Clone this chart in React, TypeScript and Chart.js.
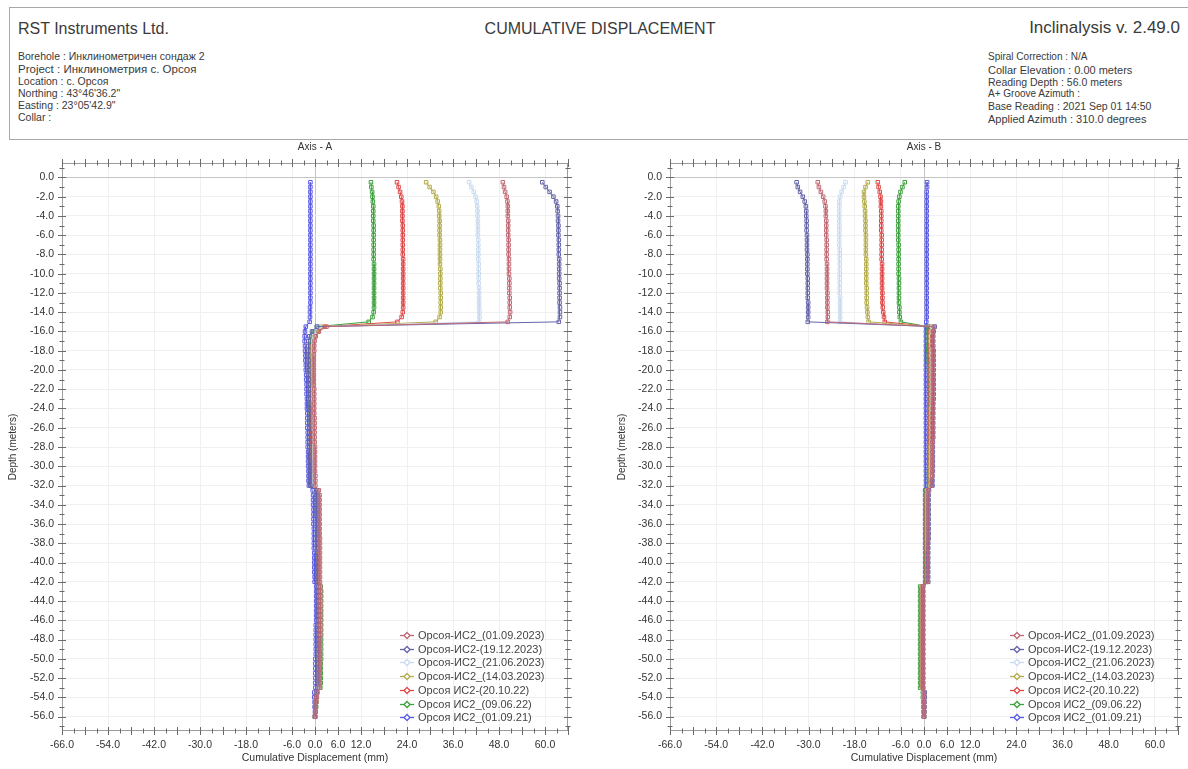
import React, { useEffect, useRef } from 'react';
import { Chart, registerables } from 'chart.js';
Chart.register(...registerables);

const FONT = '"Liberation Sans", Arial, sans-serif';

const depths = [
  -0.5, -1, -1.5, -2, -2.5, -3, -3.5, -4, -4.5, -5,
  -5.5, -6, -6.5, -7, -7.5, -8, -8.5, -9, -9.5, -10,
  -10.5, -11, -11.5, -12, -12.5, -13, -13.5, -14, -14.5, -15,
  -15.5, -16, -16.5, -17, -17.5, -18, -18.5, -19, -19.5, -20,
  -20.5, -21, -21.5, -22, -22.5, -23, -23.5, -24, -24.5, -25,
  -25.5, -26, -26.5, -27, -27.5, -28, -28.5, -29, -29.5, -30,
  -30.5, -31, -31.5, -32, -32.5, -33, -33.5, -34, -34.5, -35,
  -35.5, -36, -36.5, -37, -37.5, -38, -38.5, -39, -39.5, -40,
  -40.5, -41, -41.5, -42, -42.5, -43, -43.5, -44, -44.5, -45,
  -45.5, -46, -46.5, -47, -47.5, -48, -48.5, -49, -49.5, -50,
  -50.5, -51, -51.5, -52, -52.5, -53, -53.5, -54, -54.5, -55,
  -55.5, -56,
];

const seriesNames = [
  'Орсоя-ИС2_(01.09.2023)',
  'Орсоя-ИС2-(19.12.2023)',
  'Орсоя-ИС2_(21.06.2023)',
  'Орсоя-ИС2_(14.03.2023)',
  'Орсоя ИС2-(20.10.22)',
  'Орсоя ИС2_(09.06.22)',
  'Орсоя ИС2_(01.09.21)',
];
const seriesColors = ['#c06874', '#6464aa', '#c8daf0', '#b4ac4c', '#e04848', '#3ca03c', '#5a5ae6'];

const xTickLabels = [-66, -54, -42, -30, -18, -6, 0, 6, 12, 24, 36, 48, 60];
const yTickLabels = [0, -2, -4, -6, -8, -10, -12, -14, -16, -18, -20, -22, -24, -26, -28, -30, -32, -34, -36, -38, -40, -42, -44, -46, -48, -50, -52, -54, -56];

// ---------- Axis A ----------
const aMauve = [
  49.0, 49.3, 49.6, 50.0, 50.2, 50.3, 50.3, 50.3, 50.4, 50.4,
  50.4, 50.4, 50.5, 50.5, 50.5, 50.5, 50.6, 50.6, 50.6, 50.6,
  50.7, 50.7, 50.7, 50.7, 50.8, 50.8, 50.8, 50.9, 50.8, 50.3,
  3.0, 1.0, 0.2, -0.1, -0.2, -0.2, -0.3, -0.3, -0.3, -0.3,
  -0.3, -0.3, -0.3, -0.2, -0.2, -0.2, -0.2, -0.2, -0.2, -0.1,
  -0.1, -0.1, -0.1, -0.1, -0.1, 0.0, 0.0, 0.0, 0.0, 0.0,
  0.0, 0.1, 0.1, 0.1, 1.0, 1.2, 1.2, 1.2, 1.2, 1.2,
  1.2, 1.2, 1.2, 1.2, 1.3, 1.3, 1.3, 1.3, 1.3, 1.3,
  1.3, 1.3, 1.3, 1.3, 1.4, 1.4, 1.4, 1.4, 1.4, 1.4,
  1.4, 1.4, 1.4, 1.4, 1.4, 1.3, 1.3, 1.3, 1.3, 1.3,
  1.3, 1.2, 1.2, 1.2, 1.1, 1.1, 0.6, 0.4, 0.3, 0.2,
  0.1, 0.0,
];
const aDarkBlue = [
  59.3, 60.2, 61.2, 62.2, 62.9, 63.2, 63.3, 63.4, 63.4, 63.5,
  63.5, 63.5, 63.6, 63.6, 63.6, 63.6, 63.7, 63.7, 63.7, 63.7,
  63.7, 63.8, 63.8, 63.8, 63.8, 63.8, 63.9, 63.9, 63.9, 63.6,
  0.5, -0.8, -1.5, -1.7, -1.8, -1.8, -1.8, -1.7, -1.7, -1.7,
  -1.7, -1.6, -1.6, -1.6, -1.6, -1.6, -1.5, -1.5, -1.5, -1.5,
  -1.5, -1.5, -1.4, -1.4, -1.4, -1.4, -1.4, -1.4, -1.3, -1.3,
  -1.3, -1.3, -1.3, -1.2, 0.3, 0.4, 0.4, 0.4, 0.4, 0.4,
  0.5, 0.5, 0.5, 0.5, 0.5, 0.5, 0.5, 0.6, 0.6, 0.6,
  0.6, 0.6, 0.6, 0.6, 0.9, 0.9, 0.9, 0.9, 0.9, 0.9,
  0.9, 0.9, 0.9, 0.9, 0.9, 0.9, 0.9, 0.8, 0.8, 0.8,
  0.8, 0.8, 0.8, 0.8, 0.8, 0.7, 0.4, 0.3, 0.2, 0.1,
  0.1, 0.0,
];
const aLightBlue = [
  40.2, 40.8, 41.4, 41.9, 42.2, 42.3, 42.4, 42.4, 42.5, 42.5,
  42.5, 42.5, 42.6, 42.6, 42.6, 42.6, 42.6, 42.7, 42.7, 42.7,
  42.7, 42.7, 42.8, 42.8, 42.8, 42.8, 42.8, 42.9, 42.9, 42.8,
  1.0, 0.2, -0.3, -0.4, -0.5, -0.5, -0.5, -0.5, -0.5, -0.5,
  -0.5, -0.4, -0.4, -0.4, -0.4, -0.4, -0.4, -0.3, -0.3, -0.3,
  -0.3, -0.3, -0.3, -0.3, -0.3, -0.2, -0.2, -0.2, -0.2, -0.2,
  -0.2, -0.2, -0.2, -0.2, 0.9, 1.0, 1.0, 1.0, 1.0, 1.0,
  1.0, 1.1, 1.1, 1.1, 1.1, 1.1, 1.1, 1.1, 1.1, 1.1,
  1.1, 1.1, 1.1, 1.1, 1.2, 1.2, 1.2, 1.2, 1.2, 1.2,
  1.2, 1.2, 1.2, 1.2, 1.2, 1.2, 1.2, 1.2, 1.1, 1.1,
  1.1, 1.1, 1.1, 1.1, 1.0, 1.0, 0.5, 0.4, 0.3, 0.2,
  0.1, 0.0,
];
const aOlive = [
  29.0, 29.9, 30.9, 31.6, 32.0, 32.3, 32.4, 32.4, 32.5, 32.5,
  32.5, 32.5, 32.6, 32.6, 32.6, 32.6, 32.6, 32.6, 32.7, 32.7,
  32.7, 32.7, 32.7, 32.8, 32.8, 32.8, 32.8, 32.8, 32.5, 31.5,
  1.5, 0.5, -0.2, -0.5, -0.6, -0.6, -0.7, -0.7, -0.7, -0.7,
  -0.7, -0.6, -0.6, -0.6, -0.6, -0.6, -0.6, -0.5, -0.5, -0.5,
  -0.5, -0.5, -0.5, -0.5, -0.5, -0.4, -0.4, -0.4, -0.4, -0.4,
  -0.4, -0.4, -0.4, -0.4, 0.8, 0.9, 0.9, 0.9, 0.9, 0.9,
  0.9, 1.0, 1.0, 1.0, 1.0, 1.0, 1.0, 1.0, 1.0, 1.0,
  1.0, 1.0, 1.0, 1.0, 1.0, 1.0, 1.0, 1.0, 1.0, 1.0,
  1.0, 1.0, 1.0, 1.0, 1.0, 1.0, 1.0, 1.0, 0.9, 0.9,
  0.9, 0.9, 0.9, 0.9, 0.9, 0.8, 0.4, 0.3, 0.2, 0.1,
  0.1, 0.0,
];
const aRed = [
  21.4, 21.8, 22.2, 22.5, 22.7, 22.8, 22.8, 22.8, 22.8, 22.9,
  22.9, 22.9, 22.9, 22.9, 22.9, 22.9, 23.0, 23.0, 23.0, 23.0,
  23.0, 23.0, 23.0, 23.0, 23.0, 23.0, 23.0, 22.9, 22.6, 21.5,
  2.5, 0.8, 0.0, -0.4, -0.6, -0.7, -0.7, -0.8, -0.8, -0.8,
  -0.8, -0.8, -0.8, -0.8, -0.8, -0.7, -0.7, -0.7, -0.7, -0.7,
  -0.7, -0.7, -0.7, -0.7, -0.7, -0.6, -0.6, -0.6, -0.6, -0.6,
  -0.6, -0.6, -0.6, -0.6, 0.7, 0.8, 0.8, 0.8, 0.8, 0.9,
  0.9, 0.9, 0.9, 0.9, 0.9, 0.9, 0.9, 0.9, 0.9, 0.9,
  0.9, 0.9, 0.9, 0.9, 1.1, 1.1, 1.1, 1.1, 1.1, 1.1,
  1.1, 1.1, 1.1, 1.1, 1.1, 1.1, 1.1, 1.1, 1.1, 1.0,
  1.0, 1.0, 1.0, 1.0, 1.0, 1.0, 0.5, 0.4, 0.3, 0.2,
  0.1, 0.0,
];
const aGreen = [
  14.6, 14.7, 14.9, 15.0, 15.1, 15.2, 15.2, 15.2, 15.2, 15.3,
  15.3, 15.3, 15.3, 15.3, 15.3, 15.3, 15.3, 15.4, 15.4, 15.4,
  15.4, 15.4, 15.4, 15.4, 15.4, 15.4, 15.4, 15.3, 15.0, 14.0,
  0.5, -0.5, -1.0, -1.2, -1.2, -1.3, -1.3, -1.3, -1.2, -1.2,
  -1.2, -1.2, -1.2, -1.2, -1.1, -1.1, -1.1, -1.1, -1.1, -1.1,
  -1.1, -1.0, -1.0, -1.0, -1.0, -1.0, -1.0, -1.0, -1.0, -0.9,
  -0.9, -0.9, -0.9, -0.9, 0.6, 0.7, 0.7, 0.7, 0.8, 0.8,
  0.8, 0.8, 0.8, 0.8, 0.8, 0.8, 0.8, 0.8, 0.8, 0.8,
  0.8, 0.8, 0.8, 0.8, 1.5, 1.6, 1.6, 1.6, 1.6, 1.6,
  1.6, 1.6, 1.6, 1.6, 1.6, 1.6, 1.6, 1.6, 1.6, 1.6,
  1.5, 1.5, 1.5, 1.5, 1.5, 1.4, 0.6, 0.5, 0.4, 0.3,
  0.2, 0.0,
];
const aBlue = [
  -1.2, -1.2, -1.2, -1.2, -1.2, -1.2, -1.2, -1.2, -1.2, -1.2,
  -1.2, -1.2, -1.2, -1.2, -1.2, -1.2, -1.2, -1.2, -1.2, -1.2,
  -1.2, -1.2, -1.2, -1.2, -1.2, -1.2, -1.3, -1.3, -1.3, -1.4,
  -2.4, -2.6, -2.7, -2.7, -2.6, -2.6, -2.5, -2.5, -2.4, -2.4,
  -2.3, -2.3, -2.2, -2.2, -2.2, -2.1, -2.1, -2.1, -2.0, -2.0,
  -2.0, -2.0, -1.9, -1.9, -1.9, -1.9, -1.8, -1.8, -1.8, -1.8,
  -1.7, -1.7, -1.7, -1.6, -0.6, -0.5, -0.5, -0.5, -0.4, -0.4,
  -0.4, -0.4, -0.3, -0.3, -0.3, -0.3, -0.3, -0.2, -0.2, -0.2,
  -0.2, -0.2, -0.1, -0.1, 0.3, 0.3, 0.3, 0.3, 0.3, 0.3,
  0.3, 0.3, 0.2, 0.2, 0.2, 0.2, 0.2, 0.2, 0.2, 0.1,
  0.1, 0.1, 0.1, 0.1, 0.1, 0.1, -0.2, -0.2, -0.1, -0.1,
  0.0, 0.0,
];

// ---------- Axis B ----------
const bMauve = [
  -27.6, -27.3, -26.8, -26.2, -25.8, -25.6, -25.5, -25.5, -25.4, -25.4,
  -25.4, -25.4, -25.3, -25.3, -25.3, -25.3, -25.3, -25.2, -25.2, -25.2,
  -25.2, -25.2, -25.2, -25.1, -25.1, -25.1, -25.1, -25.0, -25.0, -25.1,
  2.6, 2.3, 2.2, 2.2, 2.2, 2.3, 2.3, 2.3, 2.3, 2.3,
  2.3, 2.3, 2.3, 2.3, 2.3, 2.3, 2.3, 2.3, 2.2, 2.2,
  2.2, 2.2, 2.2, 2.2, 2.2, 2.1, 2.1, 2.1, 2.1, 2.1,
  2.1, 2.1, 2.0, 2.0, 1.1, 1.0, 1.0, 1.0, 1.0, 1.0,
  1.0, 1.0, 1.0, 1.0, 1.0, 1.0, 1.0, 0.9, 0.9, 0.9,
  0.9, 0.9, 0.9, 0.9, -0.3, -0.3, -0.3, -0.3, -0.3, -0.3,
  -0.3, -0.3, -0.3, -0.3, -0.3, -0.3, -0.3, -0.3, -0.3, -0.3,
  -0.3, -0.3, -0.3, -0.3, -0.3, -0.3, 0.0, 0.0, 0.0, 0.0,
  0.0, 0.0,
];
const bDarkBlue = [
  -33.1, -32.8, -32.2, -31.5, -31.0, -30.7, -30.6, -30.6, -30.5, -30.5,
  -30.5, -30.4, -30.4, -30.4, -30.4, -30.3, -30.3, -30.3, -30.3, -30.3,
  -30.2, -30.2, -30.2, -30.2, -30.2, -30.1, -30.1, -30.1, -30.1, -30.2,
  2.8, 2.5, 2.4, 2.4, 2.4, 2.5, 2.5, 2.5, 2.5, 2.5,
  2.5, 2.5, 2.5, 2.5, 2.5, 2.5, 2.4, 2.4, 2.4, 2.4,
  2.4, 2.4, 2.4, 2.4, 2.3, 2.3, 2.3, 2.3, 2.3, 2.3,
  2.3, 2.2, 2.2, 2.2, 1.3, 1.2, 1.2, 1.2, 1.2, 1.2,
  1.2, 1.2, 1.2, 1.2, 1.2, 1.1, 1.1, 1.1, 1.1, 1.1,
  1.1, 1.1, 1.1, 1.1, -0.2, -0.2, -0.2, -0.2, -0.2, -0.2,
  -0.2, -0.2, -0.2, -0.2, -0.2, -0.2, -0.2, -0.2, -0.2, -0.2,
  -0.2, -0.2, -0.2, -0.2, -0.2, -0.2, 0.2, 0.2, 0.1, 0.1,
  0.1, 0.0,
];
const bLightBlue = [
  -20.4, -20.9, -21.4, -21.8, -22.0, -22.0, -22.0, -22.0, -22.0, -22.0,
  -22.0, -22.0, -22.0, -22.0, -21.9, -21.9, -21.9, -21.9, -21.9, -21.9,
  -21.9, -21.9, -21.9, -21.9, -21.8, -21.8, -21.8, -21.8, -21.8, -21.8,
  2.2, 2.0, 1.9, 1.9, 2.0, 2.0, 2.0, 2.1, 2.1, 2.1,
  2.1, 2.1, 2.1, 2.1, 2.1, 2.1, 2.1, 2.0, 2.0, 2.0,
  2.0, 2.0, 2.0, 2.0, 2.0, 1.9, 1.9, 1.9, 1.9, 1.9,
  1.9, 1.9, 1.9, 1.8, 1.0, 0.9, 0.9, 0.9, 0.9, 0.9,
  0.9, 0.9, 0.9, 0.9, 0.9, 0.9, 0.9, 0.9, 0.9, 0.9,
  0.9, 0.9, 0.9, 0.9, -0.3, -0.3, -0.3, -0.3, -0.3, -0.3,
  -0.3, -0.3, -0.3, -0.3, -0.3, -0.3, -0.3, -0.3, -0.3, -0.3,
  -0.3, -0.3, -0.3, -0.3, -0.3, -0.3, 0.0, 0.0, 0.0, 0.0,
  0.0, 0.0,
];
const bOlive = [
  -14.6, -15.2, -15.6, -15.6, -15.5, -15.4, -15.3, -15.3, -15.2, -15.2,
  -15.2, -15.1, -15.1, -15.1, -15.1, -15.1, -15.0, -15.0, -15.0, -15.0,
  -15.0, -15.0, -14.9, -14.9, -14.9, -14.9, -14.8, -14.7, -14.6, -14.4,
  2.0, 1.8, 1.7, 1.7, 1.8, 1.8, 1.8, 1.9, 1.9, 1.9,
  1.9, 1.9, 1.9, 1.9, 1.9, 1.9, 1.9, 1.8, 1.8, 1.8,
  1.8, 1.8, 1.8, 1.8, 1.8, 1.7, 1.7, 1.7, 1.7, 1.7,
  1.7, 1.7, 1.7, 1.6, 0.9, 0.8, 0.8, 0.8, 0.8, 0.8,
  0.8, 0.8, 0.8, 0.8, 0.8, 0.8, 0.8, 0.8, 0.8, 0.8,
  0.8, 0.8, 0.8, 0.8, -0.5, -0.5, -0.5, -0.5, -0.5, -0.5,
  -0.5, -0.5, -0.5, -0.5, -0.5, -0.5, -0.5, -0.5, -0.5, -0.5,
  -0.5, -0.5, -0.5, -0.5, -0.5, -0.5, -0.1, -0.1, 0.0, 0.0,
  0.0, 0.0,
];
const bRed = [
  -12.0, -11.8, -11.5, -11.3, -11.2, -11.2, -11.1, -11.1, -11.1, -11.1,
  -11.1, -11.0, -11.0, -11.0, -11.0, -11.0, -11.0, -10.9, -10.9, -10.9,
  -10.9, -10.9, -10.9, -10.8, -10.8, -10.8, -10.7, -10.6, -10.4, -10.2,
  1.8, 1.6, 1.5, 1.5, 1.6, 1.6, 1.6, 1.7, 1.7, 1.7,
  1.7, 1.7, 1.7, 1.7, 1.7, 1.7, 1.7, 1.7, 1.6, 1.6,
  1.6, 1.6, 1.6, 1.6, 1.6, 1.6, 1.6, 1.6, 1.6, 1.6,
  1.6, 1.6, 1.6, 1.5, 0.8, 0.7, 0.7, 0.7, 0.7, 0.7,
  0.7, 0.7, 0.7, 0.7, 0.7, 0.7, 0.7, 0.7, 0.7, 0.7,
  0.7, 0.7, 0.7, 0.7, -0.5, -0.5, -0.5, -0.5, -0.5, -0.5,
  -0.5, -0.5, -0.5, -0.5, -0.5, -0.5, -0.5, -0.5, -0.5, -0.5,
  -0.5, -0.5, -0.5, -0.5, -0.5, -0.5, -0.1, -0.1, 0.0, 0.0,
  0.0, 0.0,
];
const bGreen = [
  -5.0, -5.6, -6.1, -6.4, -6.6, -6.7, -6.7, -6.7, -6.7, -6.7,
  -6.7, -6.7, -6.7, -6.6, -6.6, -6.6, -6.6, -6.6, -6.6, -6.6,
  -6.5, -6.5, -6.5, -6.5, -6.5, -6.5, -6.4, -6.4, -6.3, -6.0,
  1.2, 1.0, 0.9, 0.9, 1.0, 1.1, 1.2, 1.2, 1.3, 1.3,
  1.4, 1.4, 1.4, 1.4, 1.5, 1.5, 1.5, 1.5, 1.5, 1.5,
  1.5, 1.5, 1.5, 1.4, 1.4, 1.4, 1.4, 1.4, 1.4, 1.4,
  1.3, 1.3, 1.3, 1.3, 0.5, 0.5, 0.5, 0.5, 0.5, 0.5,
  0.5, 0.5, 0.5, 0.5, 0.5, 0.5, 0.5, 0.5, 0.5, 0.5,
  0.5, 0.5, 0.5, 0.5, -1.0, -1.0, -1.0, -1.0, -1.0, -1.0,
  -1.0, -1.0, -1.0, -1.0, -1.0, -1.0, -1.0, -1.0, -1.0, -1.0,
  -1.0, -1.0, -1.0, -1.0, -1.0, -1.0, -0.3, -0.3, -0.2, -0.2,
  -0.1, 0.0,
];
const bBlue = [
  0.8, 0.8, 0.7, 0.7, 0.7, 0.7, 0.7, 0.7, 0.7, 0.7,
  0.7, 0.7, 0.7, 0.7, 0.7, 0.7, 0.7, 0.7, 0.7, 0.7,
  0.7, 0.7, 0.7, 0.7, 0.7, 0.7, 0.7, 0.7, 0.7, 0.6,
  0.5, 0.5, 0.5, 0.5, 0.5, 0.5, 0.5, 0.5, 0.5, 0.5,
  0.5, 0.5, 0.5, 0.5, 0.5, 0.5, 0.5, 0.5, 0.5, 0.5,
  0.5, 0.5, 0.5, 0.5, 0.5, 0.5, 0.5, 0.5, 0.5, 0.5,
  0.5, 0.5, 0.5, 0.5, 0.3, 0.3, 0.3, 0.3, 0.3, 0.3,
  0.3, 0.3, 0.3, 0.3, 0.3, 0.3, 0.3, 0.3, 0.3, 0.3,
  0.3, 0.3, 0.3, 0.3, -0.4, -0.4, -0.4, -0.4, -0.4, -0.4,
  -0.4, -0.4, -0.4, -0.4, -0.4, -0.4, -0.4, -0.4, -0.4, -0.4,
  -0.4, -0.4, -0.4, -0.4, -0.4, -0.4, 0.0, 0.0, 0.0, 0.0,
  0.0, 0.0,
];

const seriesA = [aMauve, aDarkBlue, aLightBlue, aOlive, aRed, aGreen, aBlue];
const seriesB = [bMauve, bDarkBlue, bLightBlue, bOlive, bRed, bGreen, bBlue];

const framePlugin = {
  id: 'frameTicks',
  beforeDatasetsDraw(chart: any) {
    const { ctx, chartArea, scales } = chart;
    const { left, right, top, bottom } = chartArea;
    ctx.save();
    ctx.strokeStyle = '#9c9c9c';
    ctx.lineWidth = 1;
    ctx.strokeRect(left + 0.5, top + 0.5, right - left - 1, bottom - top - 1);
    ctx.strokeStyle = '#6a6a6a';
    ctx.beginPath();
    for (let v = -66; v <= 66; v += 3) {
      const px = Math.round(scales.x.getPixelForValue(v)) + 0.5;
      const len = v % 6 === 0 ? 4 : 2.5;
      ctx.moveTo(px, bottom - len);
      ctx.lineTo(px, bottom + len);
      ctx.moveTo(px, top - len);
      ctx.lineTo(px, top + len);
    }
    for (let v = -57; v <= 1; v += 1) {
      const py = Math.round(scales.y.getPixelForValue(v)) + 0.5;
      const len = v % 2 === 0 ? 4 : 2.5;
      ctx.moveTo(left - len, py);
      ctx.lineTo(left + len, py);
      ctx.moveTo(right - len, py);
      ctx.lineTo(right + len, py);
    }
    ctx.stroke();
    ctx.restore();
  },
};

const legendPlugin = {
  id: 'insideLegend',
  afterDatasetsDraw(chart: any) {
    const { ctx, chartArea } = chart;
    const textX = chartArea.right - 150;
    const y0 = chartArea.bottom - 96;
    ctx.save();
    ctx.font = `11px ${FONT}`;
    ctx.textBaseline = 'middle';
    ctx.textAlign = 'left';
    seriesNames.forEach((name, i) => {
      const y = Math.round(y0 + i * 13.7) + 0.5;
      const c = seriesColors[i];
      ctx.strokeStyle = c;
      ctx.lineWidth = 1.3;
      ctx.beginPath();
      ctx.moveTo(textX - 18, y);
      ctx.lineTo(textX - 4, y);
      ctx.stroke();
      ctx.beginPath();
      ctx.moveTo(textX - 11, y - 3);
      ctx.lineTo(textX - 8, y);
      ctx.lineTo(textX - 11, y + 3);
      ctx.lineTo(textX - 14, y);
      ctx.closePath();
      ctx.fillStyle = '#ffffff';
      ctx.fill();
      ctx.stroke();
      ctx.fillStyle = '#444444';
      ctx.fillText(name, textX, y);
    });
    ctx.restore();
  },
};

type PanelProps = {
  left: number;
  width: number;
  title: string;
  values: number[][];
  yAxisWidth: number;
  yTitlePad: number;
  padRight: number;
};

function Panel({ left, width, title, values, yAxisWidth, yTitlePad, padRight }: PanelProps) {
  const ref = useRef<HTMLCanvasElement>(null);
  useEffect(() => {
    const canvas = ref.current;
    if (!canvas) return;
    const chart = new Chart(canvas, {
      type: 'scatter',
      data: {
        datasets: seriesNames.map((name, i) => ({
          label: name,
          data: depths.map((d, j) => ({ x: values[i][j], y: d })),
          showLine: true,
          borderColor: seriesColors[i],
          borderWidth: 1,
          pointStyle: 'rect',
          pointRadius: 2.5,
          pointBorderWidth: 1,
          pointBorderColor: seriesColors[i],
          pointBackgroundColor: 'rgba(255,255,255,0)',
          tension: 0,
        })),
      },
      options: {
        animation: false,
        responsive: false,
        maintainAspectRatio: false,
        devicePixelRatio: 1,
        layout: { padding: { left: 0, right: padRight, top: 0, bottom: 0 } },
        plugins: {
          legend: { display: false },
          tooltip: { enabled: false },
          title: {
            display: true,
            text: title,
            fullSize: false,
            color: '#333',
            font: { family: FONT, size: 10, weight: 'normal' },
            padding: { top: 1, bottom: 10 },
          },
        },
        scales: {
          x: {
            type: 'linear',
            position: 'bottom',
            min: -66,
            max: 66,
            afterBuildTicks: (s: any) => {
              s.ticks = xTickLabels.map((v) => ({ value: v }));
            },
            afterFit: (s: any) => {
              s.height = 38;
            },
            ticks: {
              autoSkip: false,
              maxRotation: 0,
              padding: 8,
              color: '#333',
              font: { family: FONT, size: 10.5 },
              callback: (v: any) => Number(v).toFixed(1),
            },
            grid: {
              drawTicks: false,
              lineWidth: 1,
              color: (c: any) => (c.tick && c.tick.value === 0 ? '#c4c4c4' : '#f0f0f0'),
            },
            border: { display: false },
            title: {
              display: true,
              text: 'Cumulative Displacement (mm)',
              color: '#333',
              font: { family: FONT, size: 10.5 },
              padding: { top: 0, bottom: 5 },
            },
          },
          y: {
            type: 'linear',
            min: -57.5,
            max: 1.5,
            afterBuildTicks: (s: any) => {
              s.ticks = yTickLabels.map((v) => ({ value: v }));
            },
            afterFit: (s: any) => {
              s.width = yAxisWidth;
            },
            ticks: {
              autoSkip: false,
              padding: 8,
              color: '#333',
              font: { family: FONT, size: 10.5 },
              callback: (v: any) => Number(v).toFixed(1),
            },
            grid: {
              drawTicks: false,
              lineWidth: 1,
              color: (c: any) => (c.tick && c.tick.value === 0 ? '#c4c4c4' : '#f0f0f0'),
            },
            border: { display: false },
            title: {
              display: true,
              text: 'Depth (meters)',
              color: '#333',
              font: { family: FONT, size: 10 },
              padding: { top: yTitlePad, bottom: 0 },
            },
          },
        },
      } as any,
      plugins: [framePlugin, legendPlugin],
    });
    return () => chart.destroy();
  }, []);
  return (
    <canvas
      ref={ref}
      width={width}
      height={629}
      style={{ position: 'absolute', left, top: 140, width, height: 629 }}
    />
  );
}

const headerLeft: [string, number, number][] = [
  ['Borehole : Инклинометричен сондаж 2', 56, 10.5],
  ['Project : Инклинометрия с. Орсоя', 69, 11.5],
  ['Location : с. Орсоя', 81, 10.5],
  ['Northing : 43°46\'36.2"', 93, 10.5],
  ['Easting : 23°05\'42.9"', 105, 10.5],
  ['Collar :', 117, 10.5],
];
const headerRight: [string, number, number][] = [
  ['Spiral Correction : N/A', 57, 10],
  ['Collar Elevation : 0.00 meters', 70, 11],
  ['Reading Depth : 56.0 meters', 82, 10.5],
  ['A+ Groove Azimuth :', 94, 10],
  ['Base Reading : 2021 Sep 01 14:50', 106, 10.5],
  ['Applied Azimuth : 310.0 degrees', 119, 11],
];

export default function App() {
  const abs = (left: number, top: number, size: number): React.CSSProperties => ({
    position: 'absolute',
    left,
    top,
    fontSize: size,
    lineHeight: '14px',
    whiteSpace: 'nowrap',
  });
  return (
    <div
      style={{
        position: 'absolute',
        left: 0,
        top: 0,
        width: 1188,
        height: 769,
        overflow: 'hidden',
        background: '#ffffff',
        fontFamily: FONT,
        color: '#3a3a3a',
      }}
    >
      <div
        style={{
          position: 'absolute',
          left: 9,
          top: 7,
          width: 1200,
          height: 133,
          border: '1px solid #a8a8a8',
          boxSizing: 'border-box',
        }}
      />
      <div style={{ ...abs(18, 20, 16), lineHeight: '18px' }}>RST Instruments Ltd.</div>
      <div style={{ ...abs(600, 20, 16), lineHeight: '18px', transform: 'translateX(-50%)' }}>
        CUMULATIVE DISPLACEMENT
      </div>
      <div style={{ position: 'absolute', right: 8, top: 19, fontSize: 17, lineHeight: '18px', whiteSpace: 'nowrap' }}>
        Inclinalysis v. 2.49.0
      </div>
      {headerLeft.map(([t, y, s]) => (
        <div key={t} style={abs(18, y - 7, s)}>
          {t}
        </div>
      ))}
      {headerRight.map(([t, y, s]) => (
        <div key={t} style={abs(988, y - 7, s)}>
          {t}
        </div>
      ))}
      <Panel left={0} width={580} title="Axis - A" values={seriesA} yAxisWidth={62} yTitlePad={7} padRight={12} />
      <Panel left={600} width={588} title="Axis - B" values={seriesB} yAxisWidth={70} yTitlePad={16} padRight={10} />
    </div>
  );
}
